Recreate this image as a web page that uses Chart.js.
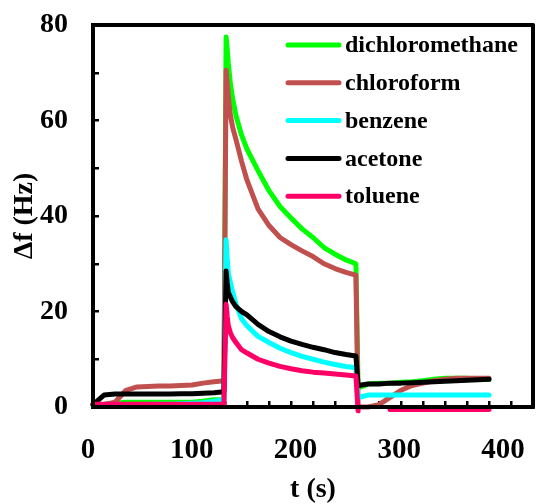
<!DOCTYPE html>
<html>
<head>
<meta charset="utf-8">
<script src="https://cdn.jsdelivr.net/npm/chart.js@4.4.1/dist/chart.umd.min.js"></script>
<style>
  html, body { margin: 0; padding: 0; background: #fff; }
  #wrap { width: 554px; height: 504px; position: relative; }
  #frame { position: absolute; border: 4px solid #000; border-radius: 3px; box-sizing: border-box; pointer-events: none; display: none; }
</style>
</head>
<body>
<div id="wrap"><canvas id="sensor"></canvas><div id="frame"></div></div>
<script>
// time axis (s), shared by every series
const time = [0, 10, 20, 30, 40, 50, 60, 70, 80, 90, 100, 110, 119,
    121, 122, 123, 125, 127, 130, 135, 140, 150, 160, 170, 180, 190, 200, 210, 220, 230, 239,
    241, 250, 260, 270, 280, 290, 300, 310, 320, 330, 340, 350, 360];

const dichloromethane = [0.5, 0.6, 0.8, 1, 1, 1, 1, 1, 1, 1, 1.2, 1.5, 1.5,
    77.5, 75, 72, 67.5, 64.5, 61, 57, 54, 49.5, 45.3, 42, 39.6, 37.3, 35.5, 33.4, 32, 30.8, 30,
    4, 4.8, 5, 5, 5.2, 5.3, 5.5, 5.8, 6, 6, 6, 5.8, 5.8];

const chloroform = [0.5, 0.5, 1, 3.5, 4.2, 4.3, 4.4, 4.4, 4.5, 4.6, 5, 5.3, 5.5,
    70.5, 68, 65, 61, 58.5, 56, 51.5, 47.5, 41.5, 38, 35.5, 34, 32.7, 31.5, 30, 29, 28.2, 27.6,
    0, 0, 0.5, 2, 3.5, 4.5, 5, 5.5, 5.8, 6, 6, 6, 6];

const benzene = [0.3, 0.4, 0.5, 0.5, 0.5, 0.5, 0.6, 0.6, 0.7, 0.8, 0.9, 1.2, 1.6,
    35, 31, 28, 26, 24, 21.5, 18.5, 17, 14.8, 13.5, 12.3, 11.4, 10.6, 10, 9.4, 8.9, 8.5, 8.2,
    2, 2.5, 2.5, 2.5, 2.5, 2.5, 2.5, 2.5, 2.5, 2.5, 2.5, 2.5, 2.5];

const acetone = [0.5, 2.5, 2.7, 2.7, 2.7, 2.7, 2.7, 2.7, 2.8, 2.8, 2.9, 3, 3.2,
    28.5, 26, 24, 23, 22, 21, 20, 19.3, 17.3, 15.8, 14.7, 13.8, 13.1, 12.5, 12, 11.4, 11, 10.7,
    4.5, 4.8, 4.8, 5, 5, 5.1, 5.2, 5.3, 5.4, 5.5, 5.6, 5.7, 5.8];

const toluene = [0.6, 0.6, 0.6, 0.6, 0.6, 0.6, 0.6, 0.6, 0.6, 0.6, 0.6, 0.6, 0.6,
    21.5, 19, 17, 15.5, 14.5, 13.5, 12, 11.3, 10, 9.2, 8.5, 8, 7.6, 7.3, 7.1, 6.9, 6.7, 6.5,
    -0.8, null, null, -0.5, -0.5, -0.5, -0.5, -0.5, -0.5, -0.5, -0.5, -0.5, -0.5];

const xLabelTicks = [0, 100, 200, 300, 400];

const FONT = 'Liberation Serif, Times New Roman, serif';
const AXIS_FONT = { family: FONT, size: 28, weight: 'bold' };

function series(label, values, color, order) {
    return {
        label: label,
        data: time.map((t, i) => ({ x: t, y: values[i] })),
        borderColor: color,
        backgroundColor: color,
        borderWidth: 5,
        pointRadius: 0,
        tension: 0,
        borderJoinStyle: 'round',
        borderCapStyle: 'round',
        spanGaps: false,
        clip: false,
        order: order
    };
}

// frame around the plot (under the data) and the legend inside it, top right
const decorations = {
    id: 'decorations',
    beforeDatasetsDraw(chart) {
        const { ctx, chartArea: a } = chart;
        ctx.save();
        ctx.strokeStyle = '#000';
        ctx.lineWidth = 4;
        ctx.lineJoin = 'round';
        ctx.strokeRect(a.left, a.top, a.right - a.left, a.bottom - a.top);
        ctx.restore();
    },
    afterDatasetsDraw(chart) {
        const { ctx, chartArea: a } = chart;
        const x0 = a.left + 195;
        ctx.save();
        ctx.font = 'bold 24px ' + FONT;
        ctx.textBaseline = 'middle';
        ctx.textAlign = 'left';
        chart.data.datasets.forEach((ds, i) => {
            const y = a.top + 20 + i * 37.8;
            ctx.strokeStyle = ds.borderColor;
            ctx.lineWidth = 5;
            ctx.lineCap = 'round';
            ctx.beginPath();
            ctx.moveTo(x0, y);
            ctx.lineTo(x0 + 51, y);
            ctx.stroke();
            ctx.fillStyle = '#000';
            ctx.fillText(ds.label, x0 + 57, y + 1);
        });
        ctx.restore();
    },
    // mirror the chart area with an html box, in case the canvas frame is lost
    afterRender(chart) {
        const a = chart.chartArea;
        const f = document.getElementById('frame');
        f.style.left = (a.left - 2) + 'px';
        f.style.top = (a.top - 2) + 'px';
        f.style.width = (a.right - a.left + 4) + 'px';
        f.style.height = (a.bottom - a.top + 4) + 'px';
        f.style.display = 'block';
    }
};

new Chart(document.getElementById('sensor'), {
    type: 'line',
    data: {
        datasets: [
            series('dichloromethane', dichloromethane, '#00FF00', 4),
            series('chloroform', chloroform, '#C0504D', 3),
            series('benzene', benzene, '#00FFFF', 2),
            series('acetone', acetone, '#000000', 1),
            series('toluene', toluene, '#FF0066', 0)
        ]
    },
    options: {
        responsive: true,
        maintainAspectRatio: false,
        animation: false,
        layout: { padding: { top: 25, right: 21, bottom: 0, left: 0 } },
        plugins: {
            legend: { display: false },
            tooltip: { enabled: false }
        },
        scales: {
            x: {
                type: 'linear',
                position: 'bottom',
                min: 0,
                max: 400,
                ticks: { display: false, stepSize: 20, autoSkip: false },
                grid: { display: true, drawOnChartArea: false, drawTicks: true, tickLength: -6, lineWidth: 2.5, color: '#000' },
                border: { display: true, width: 4, color: '#000' },
                afterFit: s => { s.height = 0; s.paddingLeft = 0; s.paddingRight = 0; }
            },
            xl: {
                type: 'linear',
                position: 'bottom',
                min: 4.82,
                max: 428.9,
                grid: { display: false, drawTicks: false },
                border: { display: false },
                afterBuildTicks: s => { s.ticks = xLabelTicks.map(v => ({ value: v })); },
                afterFit: s => { s.height = 97; s.paddingLeft = 0; s.paddingRight = 0; },
                ticks: {
                    autoSkip: false,
                    maxRotation: 0,
                    padding: 26,
                    color: '#000',
                    font: { family: FONT, size: 29, weight: 'bold' },
                    callback: v => String(v)
                },
                title: {
                    display: true,
                    text: 't (s)',
                    color: '#000',
                    font: Object.assign({ lineHeight: 1 }, AXIS_FONT),
                    padding: { top: 0, bottom: 0 }
                }
            },
            y: {
                min: 0,
                max: 80,
                grid: { display: true, drawOnChartArea: false, drawTicks: true, tickLength: -6, lineWidth: 2.5, color: '#000' },
                border: { display: true, width: 4, color: '#000' },
                afterFit: s => { s.width = 93; s.paddingTop = 0; s.paddingBottom = 0; },
                ticks: {
                    stepSize: 10,
                    autoSkip: false,
                    padding: 31,
                    color: '#000',
                    font: AXIS_FONT,
                    callback: v => (v % 20 === 0 ? v : '')
                },
                title: {
                    display: true,
                    text: 'Δf (Hz)',
                    color: '#000',
                    font: Object.assign({ lineHeight: 1 }, AXIS_FONT),
                    padding: { top: 11, bottom: 0 }
                }
            }
        }
    },
    plugins: [decorations]
});
</script>
</body>
</html>
